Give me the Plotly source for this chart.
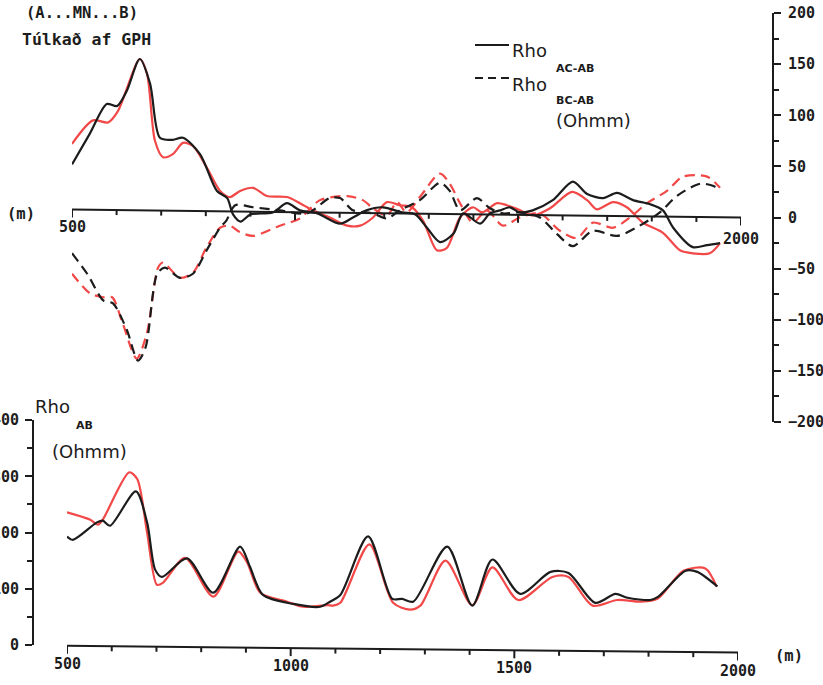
import plotly.graph_objects as go

W, H = 823, 685

# ---------------- upper panel: Rho AC-AB (solid) and Rho BC-AB (dashed), Ohmm ----------------
ac_meas_x = [500, 540, 578, 601, 623, 652, 675, 697, 726, 749, 787, 825, 848, 861, 878, 900, 950,
             982, 1011, 1050, 1101, 1130, 1160, 1197, 1240, 1270, 1296, 1325, 1355, 1377, 1415,
             1437, 1460, 1482, 1504, 1533, 1578, 1623, 1655, 1691, 1722, 1758, 1796, 1825, 1848,
             1892, 1924, 1953]
ac_meas_y = [52, 82, 111, 109, 124, 155, 131, 78, 76, 78, 62, 26, 19, 3, -4, 3, 5,
             14, 7, 4, -6, 0, 7, 10, 5, 3, -10, -24, -16, 4, -6,
             4, 7, 10, 5, 7, 17, 35, 23, 19, 24, 17, 13, 7, -10,
             -29, -27, -25]

ac_model_x = [500, 547, 581, 603, 652, 668, 686, 704, 726, 749, 771, 802, 832, 854, 877, 906, 937,
              982, 1011, 1040, 1078, 1117, 1146, 1175, 1206, 1235, 1262, 1287, 1318, 1340, 1370,
              1399, 1420, 1453, 1475, 1500, 1534, 1572, 1621, 1655, 1677, 1713, 1744, 1780, 1825,
              1863, 1892, 1930, 1953]
ac_model_y = [72, 95, 93, 104, 155, 141, 75, 59, 62, 73, 70, 49, 26, 20, 26, 29, 21,
              20, 14, 7, 0, -8, -8, 0, 15, 12, 10, -3, -32, -30, 0,
              10, 5, 14, 12, 8, 2, 9, 25, 17, 8, 15, 10, -5, -15,
              -32, -35, -35, -25]

bc_meas_x = [500, 534, 570, 592, 623, 648, 665, 691, 708, 742, 771, 802, 832, 846, 866, 906, 966,
             1027, 1078, 1101, 1130, 1175, 1206, 1235, 1280, 1325, 1347, 1370, 1408, 1437, 1466,
             1504, 1549, 1587, 1623, 1668, 1722, 1773, 1818, 1856, 1908, 1937, 1953]
bc_meas_y = [-35, -55, -81, -84, -110, -140, -127, -55, -49, -59, -55, -32, -10, -3, 12, 10, 7,
             4, 19, 19, 7, 4, -1, 7, 17, 34, 26, 7, 19, 9, 4,
             5, 0, -16, -28, -13, -18, -8, 5, 21, 33, 31, 27]

bc_model_x = [500, 540, 570, 590, 614, 645, 668, 693, 704, 742, 771, 802, 832, 854, 875, 906, 966,
              1011, 1056, 1117, 1152, 1175, 1206, 1229, 1250, 1280, 1325, 1347, 1370, 1399, 1430,
              1466, 1504, 1549, 1594, 1632, 1668, 1713, 1751, 1789, 1834, 1870, 1924, 1953]
bc_model_y = [-55, -74, -78, -78, -104, -138, -113, -49, -44, -59, -54, -29, -10, -8, -14, -18, -8,
              -1, 17, 21, 17, 9, 2, 15, 5, 20, 43, 33, 14, -5, 7,
              -8, 0, 4, -13, -20, -5, -10, 0, 14, 26, 40, 40, 29]

# ---------------- lower panel: Rho AB, Ohmm ----------------
ab_meas_x = [500, 513, 567, 580, 596, 654, 679, 697, 712, 768, 827, 887, 909, 938, 1006, 1066,
             1088, 1111, 1173, 1227, 1249, 1274, 1350, 1406, 1451, 1513, 1581, 1621, 1681, 1726,
             1753, 1804, 1822, 1883, 1909, 1954]
ab_meas_y = [193, 187, 218, 221, 212, 273, 218, 134, 121, 154, 93, 175, 139, 89, 73, 68,
             77, 89, 193, 82, 82, 77, 175, 70, 152, 91, 130, 128, 75, 91,
             84, 80, 86, 132, 130, 104]

ab_model_x = [500, 551, 569, 580, 639, 657, 679, 701, 715, 764, 827, 883, 903, 932, 992, 1028,
              1082, 1095, 1111, 1176, 1229, 1267, 1290, 1346, 1406, 1451, 1509, 1585, 1621, 1675,
              1730, 1782, 1820, 1878, 1927, 1952]
ab_model_y = [236, 223, 214, 223, 307, 295, 200, 107, 111, 155, 86, 166, 146, 93, 77, 68,
              71, 70, 75, 179, 75, 63, 70, 150, 71, 138, 80, 121, 121, 70,
              80, 77, 82, 132, 136, 104]

# axis ticks and labels
dist_ticks = list(range(500, 2001, 100))
dist_major = [500, 1000, 1500, 2000]
dist_labels_low = [500, 1000, 1500, 2000]
rho_diff_ticks = list(range(-200, 201, 50))
rho_ab_ticks = list(range(0, 401, 100))

BLACK = "#1c1c1c"
RED = "#f24848"
DASH = "10px,6px"
NUM_FONT = dict(family="DejaVu Sans Mono", size=15, color=BLACK, weight="bold")
TXT_FONT = dict(family="DejaVu Sans", size=18, color=BLACK)
SUB_FONT = dict(family="DejaVu Sans", size=11, color=BLACK, weight="bold")


def px(x):
    return x / W


def py(y):
    return 1 - y / H


fig = go.Figure()


def curve(x, y, color, dash, xa, ya):
    fig.add_trace(go.Scatter(
        x=x, y=y, mode="lines", xaxis=xa, yaxis=ya, hoverinfo="skip",
        line=dict(color=color, width=2.2, dash=dash, shape="spline", smoothing=0.8)))


# red drawn first, black over it
curve(ac_model_x, ac_model_y, RED, "solid", "x", "y")
curve(bc_model_x, bc_model_y, RED, DASH, "x", "y")
curve(ac_meas_x, ac_meas_y, BLACK, "solid", "x", "y")
curve(bc_meas_x, bc_meas_y, BLACK, DASH, "x", "y")
curve(ab_model_x, ab_model_y, RED, "solid", "x2", "y2")
curve(ab_meas_x, ab_meas_y, BLACK, "solid", "x2", "y2")

# ---- plotter-style distance axes (slightly skewed baseline) ----
UP_PX_PER_UNIT = 409 / 400     # upper panel vertical scale
LOW_PX_PER_UNIT = 225 / 400    # lower panel vertical scale


def skew(x, left, right):
    return left + (right - left) * (x - 500) / 1500


def dist_axis(xa, ya, left, right, scale, labels, label_drop):
    xs = [500, 2000, None]
    ys = [left, right, None]
    for t in dist_ticks:
        base = skew(t, left, right)
        ln = 8 if t in dist_major else 5
        xs += [t, t, None]
        ys += [base, base - ln / scale, None]
    fig.add_trace(go.Scatter(x=xs, y=ys, mode="lines", xaxis=xa, yaxis=ya, hoverinfo="skip",
                             cliponaxis=False, line=dict(color=BLACK, width=2)))
    for t in labels:
        fig.add_annotation(x=t, y=skew(t, left, right), xref=xa, yref=ya, text=str(t),
                           showarrow=False, yshift=-label_drop, font=NUM_FONT)


dist_axis("x", "y", 7.8, 0.0, UP_PX_PER_UNIT, [], 0)
fig.add_annotation(x=500, y=skew(500, 7.8, 0.0), xref="x", yref="y", text="500",
                   showarrow=False, yshift=-17, font=NUM_FONT)
fig.add_annotation(x=2000, y=0, xref="x", yref="y", text="2000",
                   showarrow=False, yshift=-21, font=NUM_FONT)
dist_axis("x2", "y3", -1.5, -13.5, LOW_PX_PER_UNIT, dist_labels_low, 18)

fig.update_layout(
    width=W, height=H, margin=dict(l=0, r=0, t=0, b=0, autoexpand=False),
    paper_bgcolor="white", plot_bgcolor="rgba(0,0,0,0)", showlegend=False,
    xaxis=dict(domain=[px(72), px(741)], range=[500, 2000], visible=False, anchor="y",
               automargin=False),
    yaxis=dict(domain=[py(422), py(13)], range=[-200, 200], anchor="free", position=px(773),
               side="right", showline=True, linecolor=BLACK, linewidth=2, showgrid=False,
               zeroline=False, ticks="outside", ticklen=7, tickwidth=2, tickcolor=BLACK,
               tickvals=rho_diff_ticks, ticklabelstandoff=4, tickfont=NUM_FONT, automargin=False,
               minor=dict(ticks="outside", ticklen=5, tickwidth=1.5, tickcolor=BLACK,
                          dtick=25, tick0=0, showgrid=False)),
    xaxis2=dict(domain=[px(67), px(738)], range=[500, 2000], visible=False, anchor="y2",
                automargin=False),
    yaxis2=dict(domain=[py(645), py(420)], range=[0, 400], anchor="free", position=px(33),
                side="left", showline=True, linecolor=BLACK, linewidth=2, showgrid=False,
                zeroline=False, ticks="outside", ticklen=7, tickwidth=2, tickcolor=BLACK,
                tickvals=rho_ab_ticks, ticklabelstandoff=3, tickfont=NUM_FONT, automargin=False,
                minor=dict(ticks="outside", ticklen=5, tickwidth=1.5, tickcolor=BLACK,
                           dtick=50, tick0=0, showgrid=False)),
    yaxis3=dict(domain=[py(685), py(420)], range=[-(685 - 645) / LOW_PX_PER_UNIT, 400],
                visible=False, anchor="x2", automargin=False),
)


def label(text, x, y, font, xanchor="left"):
    fig.add_annotation(x=px(x), y=py(y), xref="paper", yref="paper", text=text,
                       showarrow=False, xanchor=xanchor, yanchor="middle", font=font)


HEAD_FONT = dict(family="DejaVu Sans Mono", size=15.5, color=BLACK, weight="bold")
label("(A...MN...B)", 24, 13, HEAD_FONT)
label("Túlkað af GPH", 20, 39, dict(HEAD_FONT, size=16.5))

# legend of the upper panel
fig.add_shape(type="line", xref="paper", yref="paper", x0=px(475), x1=px(509), y0=py(45), y1=py(45),
              line=dict(color=BLACK, width=2))
fig.add_shape(type="line", xref="paper", yref="paper", x0=px(475), x1=px(509), y0=py(78), y1=py(78),
              line=dict(color=BLACK, width=2, dash="8px,5px"))
label("Rho", 510, 50, TXT_FONT)
label("AC-AB", 554, 68, SUB_FONT)
label("Rho", 510, 84, TXT_FONT)
label("BC-AB", 554, 101, SUB_FONT)
label("(Ohmm)", 554, 121, TXT_FONT)

# lower panel title
label("Rho", 33, 406, TXT_FONT)
label("AB", 74, 425, SUB_FONT)
label("(Ohmm)", 50, 452, TXT_FONT)

# distance units
label("(m)", 21, 214, HEAD_FONT, xanchor="center")
label("(m)", 789, 656, HEAD_FONT, xanchor="center")

fig.write_html("out.html")
